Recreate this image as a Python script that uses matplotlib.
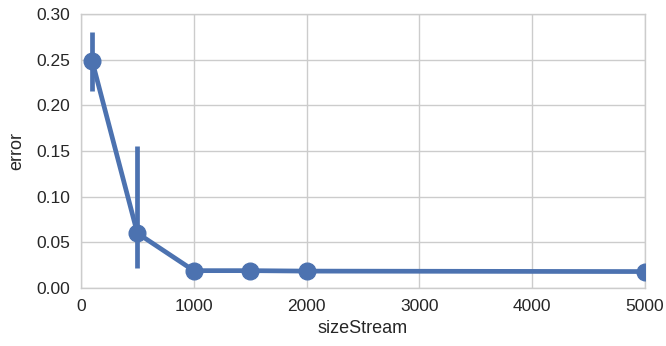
import numpy as np
import matplotlib
matplotlib.use("Agg")
from matplotlib import pyplot as plt

size_stream = [100, 500, 1000, 1500, 2000, 5000]
error_mean  = [0.248, 0.060, 0.019, 0.019, 0.0185, 0.018]
error_low   = [0.216, 0.022, 0.019, 0.019, 0.0185, 0.018]
error_high  = [0.280, 0.156, 0.019, 0.019, 0.0185, 0.018]

color = "#4C72B0"

plt.rcParams["font.family"] = ["Liberation Sans", "DejaVu Sans"]

fig = plt.figure(figsize=(6.66, 3.46), dpi=100)
ax = fig.add_axes([81/666, 1 - 288/346, (645-81)/666, (288-14)/346])

for x, lo, hi in zip(size_stream, error_low, error_high):
    if hi > lo:
        ax.plot([x, x], [lo, hi], color=color, linewidth=3.4, solid_capstyle="butt", zorder=3)

ax.plot(size_stream, error_mean, color=color, linewidth=3.4, marker="o",
        markersize=12, zorder=4)

ax.set_xlim(0, 5000)
ax.set_ylim(0, 0.30)
ax.set_xticks(np.arange(0, 5001, 1000))
ax.set_yticks(np.arange(0, 0.301, 0.05))
ax.set_yticklabels(["%.2f" % v for v in np.arange(0, 0.301, 0.05)])

ax.grid(True, color="#cccccc", linewidth=1)
ax.set_axisbelow(True)
for s in ax.spines.values():
    s.set_color("#cccccc")
    s.set_linewidth(1)
ax.tick_params(length=0, pad=8, labelcolor="#262626", labelsize=12.5)

ax.set_xlabel("sizeStream", color="#262626", fontsize=13, labelpad=4)
ax.set_ylabel("error", color="#262626", fontsize=13, labelpad=8)

fig.savefig("out.png", dpi=100)
